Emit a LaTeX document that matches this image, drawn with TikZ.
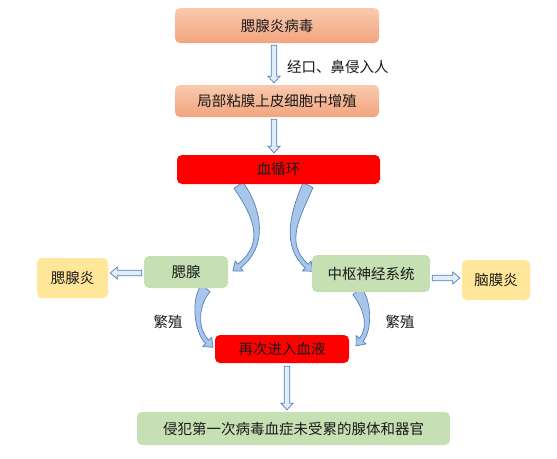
\documentclass[tikz,border=0pt]{standalone}
\usepackage{fontspec}
\setmainfont{Noto Sans CJK SC}
\usetikzlibrary{arrows.meta,calc}
\pgfdeclarelayer{ribbonlayer}
\pgfsetlayers{ribbonlayer,main}
\definecolor{orgtop}{HTML}{F9CAAE}
\definecolor{orgbot}{HTML}{F2A47E}
\definecolor{redbox}{HTML}{FF0000}
\definecolor{greenbox}{HTML}{C6E0B4}
\definecolor{yellowbox}{HTML}{FFE699}
\definecolor{arrline}{HTML}{4F81BD}
\definecolor{arrfill}{HTML}{E3EDF8}
\definecolor{curvefill}{HTML}{A9C6EA}
\definecolor{txt}{HTML}{1A1A1A}
\tikzset{
  box/.style={rounded corners=5pt, inner sep=0pt, text=txt, font=\fontsize{14.5}{16}\selectfont},
  lbl/.style={inner sep=0pt, text=txt, font=\fontsize{14.5}{16}\selectfont},
  harrow/.style={draw=arrline, fill=arrfill, line width=0.7pt, line join=miter},
  hdown/.style={to path={let \p1=(\tikztostart), \p2=(\tikztotarget) in
     (\x1-2.8pt,\y1) -- (\x1+2.8pt,\y1) -- (\x1+2.8pt,\y2+6.5pt) -- (\x1+6pt,\y2+6.5pt)
     -- (\x1,\y2) -- (\x1-6pt,\y2+6.5pt) -- (\x1-2.8pt,\y2+6.5pt) -- cycle}},
  hleft/.style={to path={let \p1=(\tikztostart), \p2=(\tikztotarget) in
     (\x1,\y1-2.8pt) -- (\x1,\y1+2.8pt) -- (\x2+7pt,\y1+2.8pt) -- (\x2+7pt,\y1+6pt)
     -- (\x2,\y1) -- (\x2+7pt,\y1-6pt) -- (\x2+7pt,\y1-2.8pt) -- cycle}},
  hright/.style={to path={let \p1=(\tikztostart), \p2=(\tikztotarget) in
     (\x1,\y1-2.8pt) -- (\x1,\y1+2.8pt) -- (\x2-7pt,\y1+2.8pt) -- (\x2-7pt,\y1+6pt)
     -- (\x2,\y1) -- (\x2-7pt,\y1-6pt) -- (\x2-7pt,\y1-2.8pt) -- cycle}},
  ribbonstyle/.style={draw=arrline, fill=curvefill, line width=0.7pt, line join=round},
}
% tapered curved arrow: #1 start, #2 head base, #3 first control (rel. to start), #4 second control (rel. to head base)
\newcommand\myribbon[4]{%
  \coordinate (rS) at #1;
  \coordinate (rE) at #2;
  \coordinate (rC) at ($(rS)+#3$);
  \coordinate (rD) at ($(rE)+#4$);
  \coordinate (rA0) at ($(rS)!5.5pt!90:(rC)$);
  \coordinate (rB0) at ($(rS)!5.5pt!-90:(rC)$);
  \coordinate (rA3) at ($(rE)!2.3pt!-90:(rD)$);
  \coordinate (rB3) at ($(rE)!2.3pt!90:(rD)$);
  \coordinate (rA1) at ($(rC)+(rA0)-(rS)$);
  \coordinate (rB1) at ($(rC)+(rB0)-(rS)$);
  \coordinate (rA2) at ($(rD)+(rA3)-(rE)$);
  \coordinate (rB2) at ($(rD)+(rB3)-(rE)$);
  \coordinate (rWA) at ($(rE)!6.5pt!-90:(rD)$);
  \coordinate (rWB) at ($(rE)!6.5pt!90:(rD)$);
  \coordinate (rT) at ($(rE)!-8pt!(rD)$);
  \draw[ribbonstyle] (rA0) .. controls (rA1) and (rA2) .. (rA3) -- (rWA) -- (rT) -- (rWB)
     -- (rB3) .. controls (rB2) and (rB1) .. (rB0) -- cycle;
}
\begin{document}
\begin{tikzpicture}[x=1pt,y=-1pt]
\useasboundingbox (0,0) rectangle (557,458);
\begin{pgfonlayer}{ribbonlayer}
\fill[white] (0,0) rectangle (557,458);
\end{pgfonlayer}

\node[box, top color=orgtop, bottom color=orgbot, minimum width=204pt, minimum height=35pt] (b1) at (277,25.5) {腮腺炎病毒};
\node[box, top color=orgtop, bottom color=orgbot, minimum width=204pt, minimum height=32pt] (b2) at (277,101) {局部粘膜上皮细胞中增殖};
\node[box, fill=redbox, minimum width=203pt, minimum height=29pt] (b3) at (278.5,169.5) {血循环};
\node[box, fill=greenbox, minimum width=84pt, minimum height=32pt] (g1) at (186,272) {腮腺};
\node[box, fill=yellowbox, minimum width=71pt, minimum height=40pt] (y1) at (72.5,278) {腮腺炎};
\node[box, fill=greenbox, minimum width=118pt, minimum height=37pt] (g2) at (371,273.5) {中枢神经系统};
\node[box, fill=yellowbox, minimum width=68pt, minimum height=40pt] (y2) at (496,280) {脑膜炎};
\node[box, fill=redbox, minimum width=134pt, minimum height=28pt] (r2) at (282,349) {再次进入血液};
\node[box, fill=greenbox, minimum width=313pt, minimum height=33pt] (g3) at (293.5,428.5) {侵犯第一次病毒血症未受累的腺体和器官};

\node[lbl, anchor=west] (l1) at (287,67) {经口、鼻侵入人};
\node[lbl] (l2) at (168,322) {繁殖};
\node[lbl] (l3) at (400,322) {繁殖};

% straight hollow arrows
\draw[harrow, hdown] ([xshift=-3pt,yshift=-2pt]b1.south) to ([xshift=-3pt,yshift=2pt]b2.north);
\draw[harrow, hdown] ([xshift=-3pt,yshift=-2pt]b2.south) to ([xshift=-3pt,yshift=2pt]b3.north);
\draw[harrow, hdown] ([xshift=5pt,yshift=-3pt]r2.south) to ([xshift=5pt,yshift=2pt]g3.north);
\draw[harrow, hleft] ([xshift=-2pt,yshift=-1pt]g1.west) to ([xshift=2pt]y1.east);
\draw[harrow, hright] ([xshift=2pt,yshift=-4.5pt]g2.east) to ([xshift=-2pt]y2.west);

% curved arrows, behind the boxes
\begin{pgfonlayer}{ribbonlayer}
\myribbon{($(b3.south)+(-40,1)$)}{($(g1.east)+(11,-6)$)}{(20,29)}{(27,-21)}
\myribbon{($(b3.south)+(29.5,1)$)}{($(g2.west)+(-5,-7.5)$)}{(-13,30)}{(-24,-21)}
\myribbon{($(g1.south)+(20,0)$)}{($(r2.west)+(-7.6,-7.2)$)}{(-11,12)}{(-12.4,-12)}
\myribbon{($(g2.south)+(-14,-1)$)}{($(r2.east)+(12,-9.3)$)}{(10,12)}{(10,-12)}
\end{pgfonlayer}
\end{tikzpicture}
\end{document}
